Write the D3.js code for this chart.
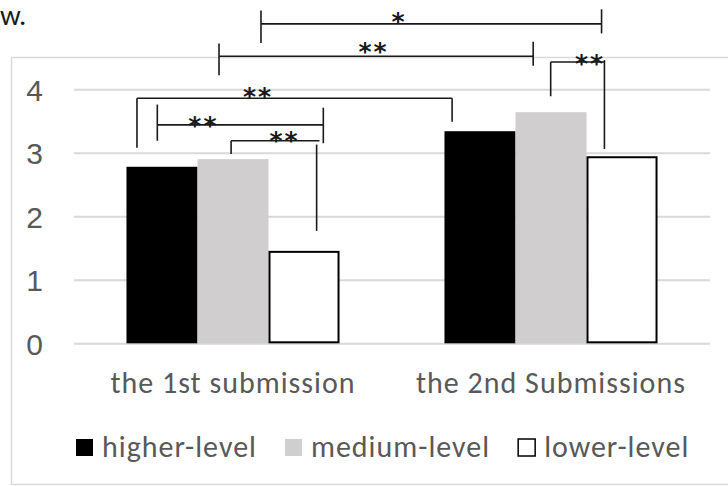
<!DOCTYPE html>
<html>
<head>
<meta charset="utf-8">
<script src="https://cdn.jsdelivr.net/npm/d3@7"></script>
<style>
  html,body{margin:0;padding:0;background:#fff;}
  svg{display:block;font-family:Carlito,Calibri,Lato,"Open Sans",sans-serif;}
</style>
</head>
<body>
<div id="chart"></div>
<script>
// Mittelwerte je Einreichung und Leistungsniveau
const categories = ["the 1st submission", "the 2nd Submissions"];
const seriesNames = ["higher-level", "medium-level", "lower-level"];
const higher = [2.78, 3.34];
const medium = [2.90, 3.64];
const lower  = [1.44, 2.93];
const yTicks = [0, 1, 2, 3, 4];

// Signifikanz-Klammern: x in Kategorie-Einheiten (0..2), y in Skalenwerten, lx/ly = Mitte der Sterne
const brackets = [
  {label:"*",  y:5.03, x1:0.588, x2:1.659, l:[5.24,4.73], r:[5.26,4.88], lx:1.022, ly:5.17},
  {label:"**", y:4.52, x1:0.456, x2:1.444, l:[4.72,4.22], r:[4.75,4.37], lx:0.942, ly:4.70},
  {label:"**", y:4.43, x1:1.499, x2:1.670, l:[4.43,3.89], r:[4.46,3.06], rx:1.668, lx:1.623, ly:4.51},
  {label:"**", y:3.86, x1:0.198, x2:1.189, l:[3.86,3.08], r:[3.86,3.49], lx:0.579, ly:3.99},
  {label:"**", y:3.44, x1:0.262, x2:0.784, l:[3.76,3.19], r:[3.71,3.15], lx:0.407, ly:3.53},
  {label:"**", y:3.19, x1:0.494, x2:0.772, l:[3.19,2.98], r:[3.13,1.77], rx:0.763, lx:0.662, ly:3.30}
];

const W = 728, H = 486;
const plot = {l:74, r:710, t:89.3, b:343.3};
const fills = ["#000000", "#d0cecf", "#ffffff"];
const txt = "#595959";
const fs = 30, ls = 1;

const svg = d3.select("#chart").append("svg").attr("width", W).attr("height", H);

// Rest des Fliesstexts oben links
svg.append("text").attr("x", 0).attr("y", 25)
  .attr("font-size", 29).attr("fill", "#1a1a1a").text("w.");

// Diagrammrahmen
svg.append("rect").attr("x", 11.5).attr("y", 57.5).attr("width", 800).attr("height", 427)
  .attr("fill", "none").attr("stroke", "#d9d9d9").attr("stroke-width", 1.5);

const y = d3.scaleLinear().domain([0, 4]).range([plot.b, plot.t]);
const x0 = d3.scaleBand().domain(categories).range([plot.l, plot.r]).paddingInner(0.33).paddingOuter(0.165);
const x1 = d3.scaleBand().domain(seriesNames).range([0, x0.bandwidth()]);
const xu = d3.scaleLinear().domain([0, 2]).range([plot.l, plot.r]);

// Gitter + y-Achse
const ya = svg.append("g").attr("transform", `translate(${plot.l},0)`)
  .call(d3.axisLeft(y).tickValues(yTicks).tickSize(-(plot.r - plot.l)).tickPadding(31).tickFormat(d3.format("d")));
ya.select(".domain").remove();
ya.selectAll(".tick line").attr("stroke", "#d9d9d9").attr("stroke-width", 2);
ya.selectAll(".tick text").attr("font-size", fs).attr("fill", txt).attr("font-family", null).attr("dy", "0.36em");

// Balken
const rows = categories.map((c, i) => ({cat:c, vals:[higher[i], medium[i], lower[i]]}));
const grp = svg.selectAll("g.grp").data(rows).join("g").attr("class", "grp")
  .attr("transform", d => `translate(${x0(d.cat)},0)`);
grp.selectAll("rect").data(d => d.vals.map((v, j) => ({s:seriesNames[j], v, j}))).join("rect")
  .attr("x", d => x1(d.s) + (d.j === 2 ? 1 : 0))
  .attr("y", d => y(d.v))
  .attr("width", d => x1.bandwidth() - (d.j === 2 ? 2 : 0))
  .attr("height", d => y(0) - y(d.v) - (d.j === 2 ? 1 : 0))
  .attr("fill", d => fills[d.j])
  .attr("stroke", d => d.j === 2 ? "#000" : "none")
  .attr("stroke-width", 2);

// Kategorien
svg.selectAll("text.cat").data(categories).join("text").attr("class", "cat")
  .attr("x", d => x0(d) + x0.bandwidth() / 2).attr("y", 393)
  .attr("text-anchor", "middle").attr("font-size", fs).attr("letter-spacing", ls).attr("fill", txt).text(d => d);

// Klammern
const bg = svg.append("g").attr("stroke", "#1a1a1a").attr("stroke-width", 1.6).attr("fill", "none");
brackets.forEach(b => {
  bg.append("line").attr("x1", xu(b.x1)).attr("x2", xu(b.x2)).attr("y1", y(b.y)).attr("y2", y(b.y));
  bg.append("line").attr("x1", xu(b.x1)).attr("x2", xu(b.x1)).attr("y1", y(b.l[0])).attr("y2", y(b.l[1]));
  const rx = b.rx != null ? b.rx : b.x2;
  bg.append("line").attr("x1", xu(rx)).attr("x2", xu(rx)).attr("y1", y(b.r[0])).attr("y2", y(b.r[1]));
  svg.append("text").attr("x", xu(b.lx)).attr("y", y(b.ly)).attr("dy", "0.6em")
    .attr("text-anchor", "middle").attr("font-size", 25).attr("font-weight", "bold").attr("letter-spacing", 2)
    .attr("font-family", "'DejaVu Sans'").attr("fill", "#1a1a1a").text(b.label);
});

// Legende
const lg = svg.append("g").attr("transform", "translate(75,448)");
let lx = 0;
seriesNames.forEach((s, j) => {
  lg.append("rect").attr("x", lx + 1).attr("y", -9).attr("width", 17).attr("height", 17)
    .attr("fill", fills[j]).attr("stroke", j === 2 ? "#000" : "none").attr("stroke-width", 1.5);
  const t = lg.append("text").attr("x", lx + 27).attr("y", 9).attr("font-size", fs).attr("letter-spacing", ls)
    .attr("fill", txt).text(s);
  lx += 27 + t.node().getComputedTextLength() + 27;
});
</script>
</body>
</html>
